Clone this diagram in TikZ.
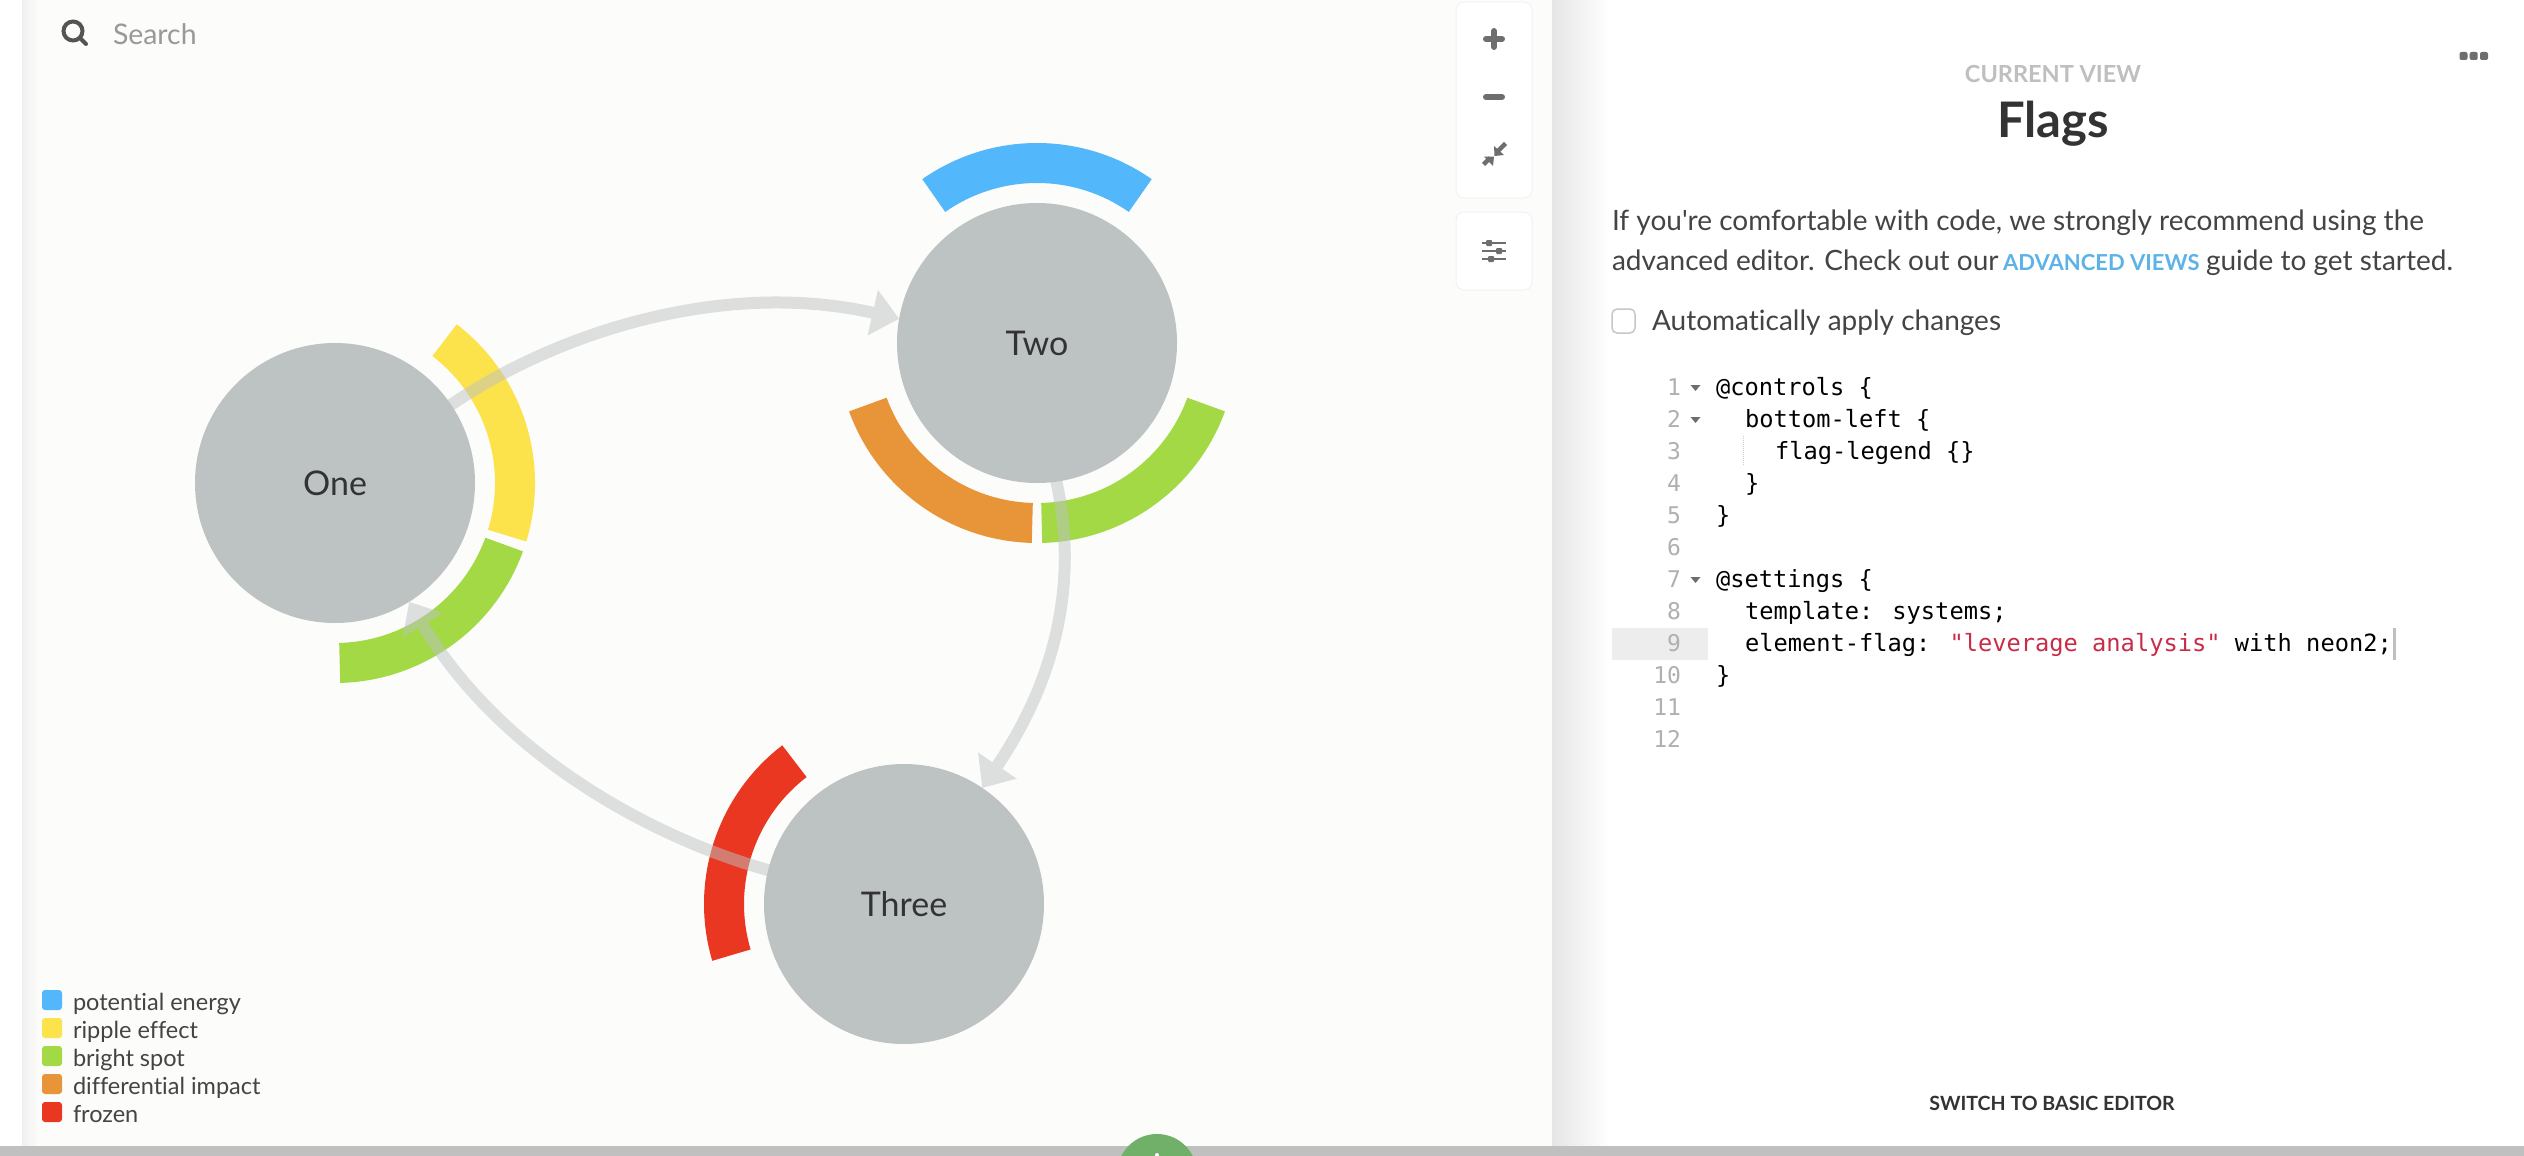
\documentclass[tikz,border=0pt]{standalone}
\usepackage{fontspec}
\usetikzlibrary{arrows.meta}
\setmainfont{Lato}[Ligatures=NoCommon]
\newfontfamily\plainfont{Lato}[Ligatures=NoCommon]
\newfontfamily\codefont{DejaVu Sans Mono}
\definecolor{circ}{HTML}{BDC3C3}
\definecolor{flagblue}{HTML}{52B7FB}
\definecolor{flagyellow}{HTML}{FDE34B}
\definecolor{flaggreen}{HTML}{A2D945}
\definecolor{flagorange}{HTML}{E89539}
\definecolor{flagred}{HTML}{EA3722}
\definecolor{panelbg}{HTML}{FCFCFA}
\definecolor{barcol}{HTML}{C0C0C0}
\definecolor{inkdark}{HTML}{333333}
\definecolor{inkmid}{HTML}{444444}
\definecolor{iconcol}{HTML}{6E6E6E}
\definecolor{linkblue}{HTML}{5DB3E8}
\definecolor{codered}{HTML}{C92C48}
\definecolor{gutter}{HTML}{B0B0B0}
\definecolor{helpgreen}{HTML}{70B068}
\pgfdeclarelayer{background}
\pgfsetlayers{background,main}
\newcommand{\flagarc}[4]{\fill[#4] (#1) ++(#2:160) arc[start angle=#2,end angle=#3,radius=160] -- ++(#3:40) arc[start angle=#3,end angle=#2,radius=200] -- cycle;}
\newcommand{\fsz}[1]{\fontsize{#1}{#1}\selectfont}
\tikzset{
  x=1pt,y=1pt,
  sysnode/.style={circle,fill=circ,minimum size=280pt,inner sep=0pt,outer sep=0pt,text=inkdark,font=\fsz{34}},
  flowline/.style={draw=circ,line width=12pt,shorten <=-8pt,-{Triangle[length=27pt,width=45pt]}},
  flowgroup/.style={transparency group,opacity=.5},
  txt/.style={anchor=base west,inner sep=0pt,outer sep=0pt},
  legendtxt/.style={txt,text=inkmid,font=\fsz{23.5}},
  bodytxt/.style={txt,text=inkmid,font=\plainfont\fsz{28}},
  codetxt/.style={txt,text=black,font=\codefont\fsz{23.7}},
  numtxt/.style={anchor=base east,inner sep=0pt,outer sep=0pt,text=gutter,font=\codefont\fsz{23}},
  swatch/.style={rounded corners=3pt},
  card/.style={fill=white,draw=black!5,line width=1pt,rounded corners=8pt},
  fold/.style={fill=iconcol},
  icon/.style={draw=iconcol,line cap=round},
}
\begin{document}
\begin{tikzpicture}
\useasboundingbox (0,0) rectangle (2524,-1156);
% graph nodes
\node[sysnode] (one) at (335,-483) {One};
\node[sysnode] (two) at (1037,-343) {Two};
\node[sysnode] (three) at (904,-904) {Three};
\begin{pgfonlayer}{background}
  \fill[white] (0,0) rectangle (2524,-1156);
  \fill[panelbg] (22,0) rectangle (1552,-1146);
  \shade[left color=black!6,right color=panelbg] (22,0) rectangle (38,-1146);
  \shade[left color=black!10,right color=white] (1552,0) rectangle (1610,-1146);
  % flags
  \flagarc{one}{-17}{52.5}{flagyellow}
  \flagarc{one}{-88.5}{-20}{flaggreen}
  \flagarc{two}{55}{125}{flagblue}
  \flagarc{two}{-88.5}{-20}{flaggreen}
  \flagarc{two}{200}{268.5}{flagorange}
  \flagarc{three}{127.5}{196.5}{flagred}
  % connectors
  \begin{scope}[flowgroup]
    \draw[flowline] (one.34) .. controls (550,-335) and (720,-278) .. (two.170.5);
  \end{scope}
  \begin{scope}[flowgroup]
    \draw[flowline] (two.-82) .. controls (1078,-570) and (1062,-670) .. (three.56.6);
  \end{scope}
  \begin{scope}[flowgroup]
    \draw[flowline] (three.166) .. controls (654,-840) and (500,-755) .. (one.-58);
  \end{scope}
  % toolbar
  \path[card] (1456,-2) rectangle (1532,-198);
  \path[card] (1456,-212) rectangle (1532,-290);
  \draw[icon,line width=6pt] (1486,-39) -- (1502,-39) (1494,-31) -- (1494,-47);
  \draw[icon,line width=6pt] (1486,-97) -- (1502,-97);
  \draw[iconcol,line width=4.5pt] (1505.5,-143.5) -- (1498,-151) (1483.5,-164.5) -- (1490,-158);
  \fill[iconcol] (1494,-146) -- (1494.5,-156) -- (1504,-155) -- cycle;
  \fill[iconcol] (1494,-156.5) -- (1484,-156.5) -- (1493,-166) -- cycle;
  \draw[iconcol,line width=1.5pt] (1482,-243) -- (1506,-243) (1482,-251) -- (1506,-251) (1482,-259) -- (1506,-259);
  \fill[iconcol,rounded corners=1pt] (1486,-240) rectangle (1492,-246) (1496,-248) rectangle (1502,-254) (1488,-256) rectangle (1494,-262);
  % search icon
  \draw[draw=black!67,line width=4pt] (73,-31) circle[radius=9.5];
  \draw[draw=black!67,line width=4pt,line cap=round] (80,-38) -- (86,-44);
  % legend swatches
  \fill[swatch,flagblue] (42,-990) rectangle (62,-1010);
  \fill[swatch,flagyellow] (42,-1018) rectangle (62,-1038);
  \fill[swatch,flaggreen] (42,-1046) rectangle (62,-1066);
  \fill[swatch,flagorange] (42,-1074) rectangle (62,-1094);
  \fill[swatch,flagred] (42,-1102) rectangle (62,-1122);
  % more dots
  \fill[iconcol,rounded corners=2pt] (2459.5,-52) rectangle (2467.5,-60) (2469.7,-52) rectangle (2477.7,-60) (2480,-52) rectangle (2488,-60);
  % checkbox
  \draw[draw=black!22,line width=1.5pt,rounded corners=5pt,fill=white] (1612,-309) rectangle (1635,-333);
  % editor decoration
  \fill[black!7] (1612,-628) rectangle (1708,-660);
  \fill[black!25] (2393,-628) rectangle (2396,-660);
  \draw[black!20,line width=1pt,densely dotted] (1743,-436) -- (1743,-466);
  \fill[fold] (1690.5,-385) -- (1700.5,-385) -- (1695.5,-391) -- cycle;
  \fill[fold] (1690.5,-417) -- (1700.5,-417) -- (1695.5,-423) -- cycle;
  \fill[fold] (1690.5,-577) -- (1700.5,-577) -- (1695.5,-583) -- cycle;
  % bottom bar and round button
  \fill[barcol] (0,-1146) rectangle (2524,-1156);
  \begin{scope}
    \clip (0,0) rectangle (2524,-1156);
    \fill[helpgreen] (1157,-1174) circle[radius=40];
    \fill[white] (1157,-1155) circle[radius=2];
  \end{scope}
\end{pgfonlayer}
% search and legend text
\node[txt,text=black!40,font=\fsz{28.4}] (searchlbl) at (113,-45) {Search};
\node[legendtxt] (lg1) at (73,-1010) {potential energy};
\node[legendtxt] (lg2) at (73,-1038) {ripple effect};
\node[legendtxt] (lg3) at (73,-1066) {bright spot};
\node[legendtxt] (lg4) at (73,-1094) {differential impact};
\node[legendtxt] (lg5) at (73,-1122) {frozen};
% right panel text
\node[anchor=base,inner sep=0pt,text=black!25,font=\bfseries\fsz{23.5}] (cv) at (2053,-82) {CURRENT VIEW};
\node[anchor=base,inner sep=0pt,text=inkdark,font=\bfseries\fsz{49}] (flags) at (2053,-137.5) {Flags};
\node[bodytxt] (p1) at (1612,-230) {If you're comfortable with code, we strongly recommend using the};
\node[bodytxt] (p2a) at (1612,-270) {advanced editor. Check out our};
\node[txt,text=linkblue,font=\bfseries\fsz{22}] (p2b) at (2003,-270) {ADVANCED VIEWS};
\node[bodytxt] (p2c) at (2206,-270) {guide to get started.};
\node[bodytxt] (auto) at (1652,-330) {Automatically apply changes};
\node[anchor=center,inner sep=0pt,text=inkdark,font=\bfseries\fsz{19.6}] (sw) at (2052,-1103) {SWITCH TO BASIC EDITOR};
% code
\node[numtxt] (n1) at (1681,-395) {1};
\node[numtxt] (n2) at (1681,-427) {2};
\node[numtxt] (n3) at (1681,-459) {3};
\node[numtxt] (n4) at (1681,-491) {4};
\node[numtxt] (n5) at (1681,-523) {5};
\node[numtxt] (n6) at (1681,-555) {6};
\node[numtxt] (n7) at (1681,-587) {7};
\node[numtxt] (n8) at (1681,-619) {8};
\node[numtxt] (n9) at (1681,-651) {9};
\node[numtxt] (n10) at (1681,-683) {10};
\node[numtxt] (n11) at (1681,-715) {11};
\node[numtxt] (n12) at (1681,-747) {12};
\node[codetxt] (c1) at (1716,-395) {@controls \{};
\node[codetxt] (c2) at (1745,-427) {bottom-left \{};
\node[codetxt] (c3) at (1775,-459) {flag-legend \{\}};
\node[codetxt] (c4) at (1745,-491) {\}};
\node[codetxt] (c5) at (1716,-523) {\}};
\node[codetxt] (c7) at (1716,-587) {@settings \{};
\node[codetxt] (c8) at (1745,-619) {template: systems;};
\node[codetxt] (c9) at (1745,-651) {element-flag: \textcolor{codered}{"leverage analysis"} with neon2;};
\node[codetxt] (c10) at (1716,-683) {\}};
\end{tikzpicture}
\end{document}
